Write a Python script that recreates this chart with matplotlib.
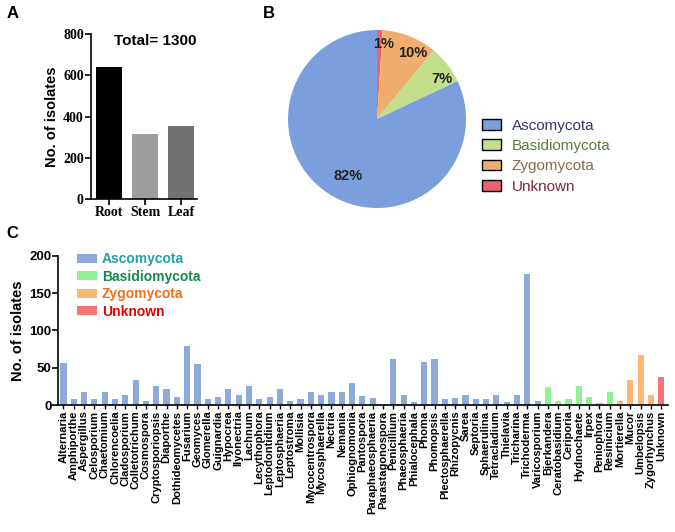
import matplotlib.pyplot as plt
from matplotlib.patches import Patch

plt.rcParams['font.family'] = ['Liberation Sans', 'DejaVu Sans']

# panel A - isolates per tissue
tissues = ["Root", "Stem", "Leaf"]
tissue_counts = [638, 314, 357]
tissue_colors = ["#000000", "#9d9d9d", "#727272"]

# panel B - share per phylum
phyla = ["Ascomycota", "Basidiomycota", "Zygomycota", "Unknown"]
phylum_pct = [82, 7, 10, 1]
pie_colors = ["#7a9fdc", "#c3df8c", "#f0ae6e", "#e8646e"]
pie_text_colors = ["#35386a", "#5e7d3c", "#8c6a42", "#7a2838"]

# panel C - isolates per genus
asco_genera = ["Alternaria", "Amphiporthe", "Aspergillus", "Celosporium", "Chaetomium",
               "Chlorencoelia", "Cladosporium", "Colletotrichum", "Cosmospora",
               "Cryptosporiopsis", "Diaporthe", "Dothideomycetes", "Fusarium", "Geomyces",
               "Glomerella", "Guignardia", "Hypocrea", "Ilyonectria", "Lachnum",
               "Lecythophora", "Leptodontidium", "Leptosphaeria", "Leptostroma", "Mollisia",
               "Mycocentrospora", "Mycosphaerella", "Nectria", "Nemania", "Ophiognomonia",
               "Pantospora", "Paraphaeosphaeria", "Parastagonospora", "Penicillium",
               "Phaeosphaeria", "Phialocephala", "Phoma", "Phomopsis", "Plectosphaerella",
               "Rhizopycnis", "Sarea", "Septoria", "Sphaerulina", "Tetracladium",
               "Thielavia", "Tricharina", "Trichoderma", "Varicosporium"]
asco_counts = [56, 8, 17, 8, 17, 8, 14, 34, 6, 25, 22, 11, 79, 55, 8, 11, 22, 14, 26,
               8, 11, 22, 5, 8, 17, 14, 17, 17, 29, 12, 9, 1, 61, 13, 4, 58, 61, 8,
               10, 13, 8, 8, 13, 4, 13, 176, 6]
basidio_genera = ["Bjerkandera", "Ceratobasidium", "Ceriporia", "Hydnochaete", "Irpex",
                  "Peniophora", "Resinicium"]
basidio_counts = [24, 5, 8, 25, 11, 3, 17]
zygo_genera = ["Mortierella", "Mucor", "Umbelopsis", "Zygorhynchus"]
zygo_counts = [6, 33, 67, 14]
unknown_genera = ["Unknown"]
unknown_counts = [38]
bar_colors = ["#8eaadb", "#90f290", "#fcb774", "#f77476"]
legend_text_colors = ["#24a0a8", "#17894c", "#f0701e", "#e00000"]

fig = plt.figure(figsize=(6.75, 5.32), dpi=100)

# ---------- A ----------
axA = fig.add_axes([0.1344, 0.6254, 0.1575, 0.3107])
axA.bar(range(len(tissues)), tissue_counts, width=0.72, color=tissue_colors)
axA.set_xlim(-0.52, 2.45)
axA.set_ylim(0, 800)
axA.set_yticks([0, 200, 400, 600, 800])
axA.set_xticks(range(len(tissues)))
axA.set_xticklabels(tissues)
for lab in axA.get_xticklabels() + axA.get_yticklabels():
    lab.set_family('Liberation Serif')
    lab.set_fontweight('bold')
    lab.set_fontsize(10)
axA.spines['top'].set_visible(False)
axA.spines['right'].set_visible(False)
axA.spines['left'].set_linewidth(1.2)
axA.spines['bottom'].set_linewidth(1.2)
axA.tick_params(length=4, width=1.2, pad=1)
axA.set_ylabel("No. of isolates", fontsize=10.5, fontweight='bold', labelpad=3)
axA.text(0.215, 0.96, "Total= 1300", transform=axA.transAxes, fontsize=11,
         fontweight='bold', va='center')
fig.text(0.010, 0.974, "A", fontsize=12, fontweight='bold', va='center')

# ---------- B ----------
axB = fig.add_axes([0.4267, 0.609, 0.2637, 0.3346])
order = [3, 2, 1, 0]
wedges, texts, autotexts = axB.pie([phylum_pct[i] for i in order],
                                   colors=[pie_colors[i] for i in order],
                                   startangle=90, counterclock=False,
                                   autopct=lambda p: f"{p:.0f}%", pctdistance=0.86,
                                   textprops=dict(fontsize=10.5, fontweight='bold',
                                                  color='#222222'))
for t in autotexts:
    x, y = t.get_position()
    if t.get_text() == "82%":
        t.set_position((x * 0.76 / 0.86 + 0.08, y * 0.76 / 0.86))
    elif t.get_text() == "10%":
        t.set_position((x + 0.08, y - 0.06))
    elif t.get_text() == "7%":
        t.set_position((x + 0.05, y - 0.08))
    else:
        t.set_position((x + 0.05, y - 0.02))
axB.set_xlim(-1, 1)
axB.set_ylim(-1, 1)
handles = [Patch(facecolor=c, edgecolor='black', linewidth=1) for c in pie_colors]
legB = fig.legend(handles, phyla, loc='upper left', bbox_to_anchor=(0.714, 0.777),
                  frameon=False, fontsize=11, borderpad=0, borderaxespad=0,
                  handlelength=1.25, handleheight=0.7, handletextpad=0.7, labelspacing=0.42)
for t, c in zip(legB.get_texts(), pie_text_colors):
    t.set_color(c)
fig.text(0.390, 0.974, "B", fontsize=12, fontweight='bold', va='center')

# ---------- C ----------
axC = fig.add_axes([0.0864, 0.2387, 0.9032, 0.2807])
groups = [(asco_genera, asco_counts), (basidio_genera, basidio_counts),
          (zygo_genera, zygo_counts), (unknown_genera, unknown_counts)]
names = []
pos = 0
for (g, c), col in zip(groups, bar_colors):
    axC.bar(range(pos, pos + len(g)), c, width=0.6, color=col)
    names += g
    pos += len(g)
axC.set_xlim(-0.5, 58.65)
axC.set_ylim(0, 200)
axC.set_yticks([0, 50, 100, 150, 200])
axC.set_xticks(range(len(names)))
axC.set_xticklabels(names, rotation=90, fontsize=8, fontweight='bold')
for lab in axC.get_yticklabels():
    lab.set_fontweight('bold')
    lab.set_fontsize(9.5)
axC.spines['top'].set_visible(False)
axC.spines['right'].set_visible(False)
axC.spines['left'].set_linewidth(1.2)
axC.spines['bottom'].set_linewidth(1.2)
axC.tick_params(axis='y', length=4, width=1.2, pad=1)
axC.tick_params(axis='x', length=3, width=1, pad=1)
axC.set_ylabel("No. of isolates", fontsize=10.5, fontweight='bold', labelpad=3)
handlesC = [Patch(facecolor=c) for c in bar_colors]
legC = fig.legend(handlesC, phyla, loc='upper left', bbox_to_anchor=(0.1136, 0.526),
                  frameon=False, borderpad=0, borderaxespad=0,
                  handlelength=1.45, handleheight=0.6, handletextpad=0.35,
                  labelspacing=0.25, prop=dict(weight='bold', size=10))
for t, c in zip(legC.get_texts(), legend_text_colors):
    t.set_color(c)
fig.text(0.010, 0.562, "C", fontsize=12, fontweight='bold', va='center')

fig.savefig("out.png", dpi=100)
